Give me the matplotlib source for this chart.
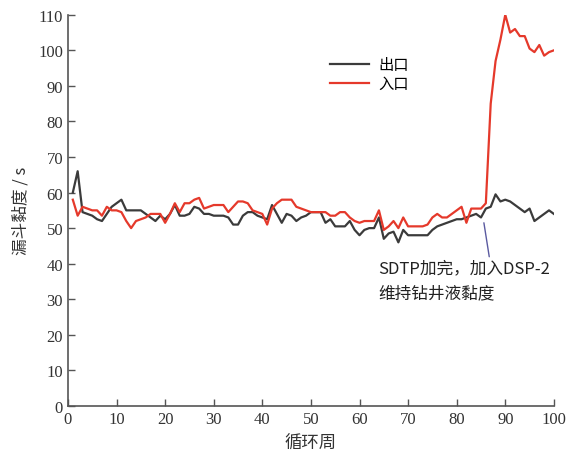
import matplotlib.pyplot as plt

plt.rcParams['font.family'] = ['Liberation Serif', 'Noto Sans CJK SC']

cycles = list(range(1, 101))
outlet = [60, 66, 54.5, 54, 53.5, 52.5, 52, 54, 56, 57,
          58, 55, 55, 55, 55, 54, 53, 52, 53.5, 52.5,
          54, 56.5, 53.5, 53.5, 54, 56, 55.5, 54, 54, 53.5,
          53.5, 53.5, 53, 51, 51, 53.5, 54.5, 54.5, 53.5, 53,
          52.5, 56.5, 54, 51.5, 54, 53.5, 52, 53, 53.5, 54.5,
          54.5, 54.5, 51.5, 52.5, 50.5, 50.5, 50.5, 52, 49.5, 48,
          49.5, 50, 50, 53, 47, 48.5, 49, 46, 49.5, 48,
          48, 48, 48, 48, 49.5, 50.5, 51, 51.5, 52, 52.5,
          52.5, 53, 53.5, 54, 53, 55.5, 56, 59.5, 57.5, 58,
          57.5, 56.5, 55.5, 54.5, 55.5, 52, 53, 54, 55, 54]
inlet = [58, 53.5, 56, 55.5, 55, 55, 53.5, 56, 55, 55,
         54.5, 52, 50, 52, 52.5, 53, 54, 54, 54, 51.5,
         54, 57, 54.5, 57, 57, 58, 58.5, 55.5, 56, 56.5,
         56.5, 56.5, 54.5, 56, 57.5, 57.5, 57, 55, 54.5, 54,
         51, 55.5, 57, 58, 58, 58, 56, 55.5, 55, 54.5,
         54.5, 54.5, 54.5, 53.5, 53.5, 54.5, 54.5, 53, 52, 51.5,
         52, 52, 52, 55, 49.5, 50.5, 52, 50, 53, 50.5,
         50.5, 50.5, 50.5, 51, 53, 54, 53, 53, 54, 55,
         56, 51.5, 55.5, 55.5, 55.5, 57, 85, 97, 103, 110,
         105, 106, 104, 104, 100.5, 99.5, 101.5, 98.5, 99.5, 100]

fig = plt.figure(figsize=(5.71, 4.64), dpi=100)
ax = fig.add_axes([0.119, 0.123, 0.851, 0.843])

ax.plot(cycles, outlet, color='#3b3b3b', lw=1.6, label='出口')
ax.plot(cycles, inlet, color='#e5392b', lw=1.6, label='入口')

ax.set_xlim(0, 100)
ax.set_ylim(0, 110)
ax.set_xticks(range(0, 101, 10))
ax.set_yticks(range(0, 111, 10))
for s in ['top', 'right']:
    ax.spines[s].set_visible(False)
for s in ['left', 'bottom']:
    ax.spines[s].set_color('#555555')
    ax.spines[s].set_linewidth(1.2)
ax.tick_params(direction='in', length=5, width=1, colors='#555555',
               labelcolor='#333333', labelsize=12)

ax.set_xlabel('循环周', fontsize=12.5, family='Noto Sans CJK SC', color='#333333', labelpad=5)
ax.set_ylabel('漏斗黏度 / s', fontsize=12, family='Noto Sans CJK SC', color='#333333', labelpad=6)

ax.legend(loc='upper left', bbox_to_anchor=(0.51, 0.93), frameon=False,
          prop={'family': 'Noto Sans CJK SC', 'size': 11},
          handlelength=2.6, labelspacing=0.15, handletextpad=0.6)

ax.annotate('SDTP加完，加入DSP-2\n维持钻井液黏度', xy=(85.6, 51.5), xytext=(63.8, 35.3),
            fontsize=12, family=['Noto Sans CJK SC', 'DejaVu Sans'], color='#222222',
            va='center', ha='left', linespacing=1.6,
            arrowprops=dict(arrowstyle='-', color='#5a5aa0', lw=1,
                            shrinkA=0, shrinkB=0, relpos=(0.65, 1.0)))

fig.savefig('out.png')
